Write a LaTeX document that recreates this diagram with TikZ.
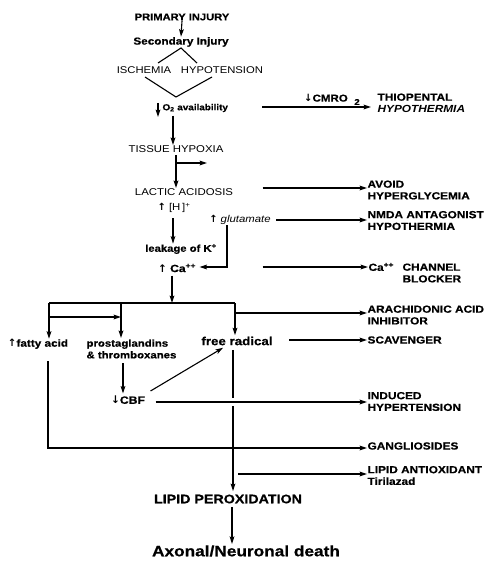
\documentclass[tikz,border=0pt]{standalone}
\usepackage{fontspec}
\setmainfont{Liberation Sans}[FakeStretch=1.15,BoldFeatures={FakeBold=0.6}]
\newfontfamily\arrf{DejaVu Sans}
\newcommand\uarr{{\arrf\bfseries ↑}}
\newcommand\darr{{\arrf\bfseries ↓}}
\usetikzlibrary{arrows.meta,calc}
\begin{document}
\begin{tikzpicture}[x=1pt,y=-1pt,line width=1.1pt,
  every node/.style={inner sep=0pt},
  B/.style={font=\fontsize{#1}{11.7}\selectfont\bfseries},
  R/.style={font=\fontsize{#1}{11.7}\selectfont},
  BI/.style={font=\fontsize{#1}{11.7}\selectfont\bfseries\itshape},
  RI/.style={font=\fontsize{#1}{11.7}\selectfont\itshape},
  arr/.style={-{Stealth[length=7.5pt,width=4.8pt,inset=1.5pt]}},
  rt/.style={B=10.3,anchor=west,align=left}]
\path[use as bounding box] (0,0) rectangle (487,561);
% ---- main chain ----
\node[B=9.7] (prim) at (182,17) {PRIMARY INJURY};
\node[B=10.2] (sec) at (181,42) {Secondary Injury};
\node[R=9.8] (isch) at (144,70) {ISCHEMIA};
\node[R=9.8] (hypo) at (222,70) {HYPOTENSION};
\node[B=8.6,anchor=west] (o2) at (162,108) {O\textsubscript{2} availability};
\node[R=9.9] (tissue) at (176,149) {TISSUE HYPOXIA};
\node[R=9.9] (lactic) at (184,192) {LACTIC ACIDOSIS};
\node[R=9.9] (hplus) at (174,208) {\uarr\ [H\,]\textsuperscript{+}};
\node[RI=9.9] (glut) at (240,220) {\uarr\ glutamate};
\node[B=9.8] (leak) at (181,249) {leakage of K\textsuperscript{+}};
\node[B=10.5] (ca) at (177,268) {\uarr\ Ca\textsuperscript{++}};
\node[B=10.2] (fatty) at (38,344) {\uarr fatty acid};
\node[B=9.9,anchor=west,align=left] (prost) at (86,349) {prostaglandins\\\& thromboxanes};
\node[B=11.6] (free) at (237,341) {free radical};
\node[B=10.6] (cbf) at (128,400) {\darr CBF};
\node[B=12.4] (lipid) at (228,499) {LIPID PEROXIDATION};
\node[B=15] (death) at (246,551) {Axonal/Neuronal death};
% ---- right column ----
\node[B=10] (cmro) at (326,98) {\darr CMRO};
\node[B=8.5] (cmrosub) at (357,102) {2};
\node[rt] (thio) at (377,103) {THIOPENTAL\\\textit{HYPOTHERMIA}};
\node[rt] (avoid) at (367,190) {AVOID\\HYPERGLYCEMIA};
\node[rt] (nmda) at (367,220.5) {NMDA ANTAGONIST\\HYPOTHERMIA};
\node[B=10.3,anchor=west] (caq) at (368,267) {Ca\textsuperscript{++}};
\node[rt] (chan) at (402,273) {CHANNEL\\BLOCKER};
\node[rt] (arach) at (367,315) {ARACHIDONIC ACID\\INHIBITOR};
\node[rt] (scav) at (367,340) {SCAVENGER};
\node[rt] (induced) at (367,401.5) {INDUCED\\HYPERTENSION};
\node[rt] (gang) at (367,446) {GANGLIOSIDES};
\node[rt] (antiox) at (367,475.5) {LIPID ANTIOXIDANT\\Tirilazad};
% ---- helper coordinates ----
\coordinate (vtop) at (181,48);
\coordinate (vl) at (158,63);
\coordinate (vr) at (197,63);
\coordinate (wl) at (145,77);
\coordinate (wr) at (212,77);
\coordinate (wapex) at (176,97);
\coordinate (hx) at (176,163);
\coordinate (hxe) at (207,163);
\coordinate (gturn) at (227,267);
\coordinate (barl) at (49,303);
\coordinate (barm) at (121,303);
\coordinate (barr) at (235,303);
\coordinate (inner) at (49,317);
\coordinate (arb) at (235,313);
\coordinate (fr1) at (233,398);
\coordinate (fr2) at (233,406);
\coordinate (fatb) at (48,448);
\coordinate (aox) at (238,474);
% ---- connectors ----
\draw[arr] (prim.south) -- (sec.north);
\draw (vl) -- (vtop) -- (vr);
\draw (wl) -- (wapex) -- (wr);
\draw[arr] ($(o2.west)+(-4,-5)$) -- ($(o2.west)+(-4,9)$);
\draw[arr] ($(o2.south west)+(11,3)$) -- (tissue.north -| 173,0);
\draw[arr] ($(tissue.south)+(0,2)$) -- (lactic.north -| 176,0);
\draw[arr] (hx) -- (hxe);
\draw[arr] ($(hplus.south)+(-1,5)$) -- (leak.north -| 173,0);
\draw[arr] (glut.south -| 227,0) -- (gturn) -- ($(ca.east)+(3,-1)$);
\draw[arr] ($(ca.south)+(-5,3)$) -- (barr -| 172,0);
\draw (barl) -- (barr);
\draw[arr] (barl) -- (fatty.north -| barl);
\draw[arr] (barm) -- ($(prost.north west)+(35,-1)$);
\draw[arr] (barr) -- ($(free.north)+(-2,-1)$);
\draw[arr] (inner) -- (inner -| barm);
\draw[arr] (arb) -- (arb -| arach.west);
\draw[arr] ($(free.east)+(16,-1)$) -- (scav.west);
\draw[arr] ($(prost.south west)+(37,4)$) -- ($(cbf.north)+(-5,-2)$);
\draw[arr] ($(cbf.east)+(5,-9)$) -- ($(free.south)+(-14,2)$);
\draw[arr] ($(cbf.east)+(10,2)$) -- (induced.west |- 0,402);
\draw ($(free.south)+(-4,4)$) -- (fr1);
\draw[arr] (fr2) -- ($(lipid.north)+(5,-3)$);
\draw[arr] ($(fatty.south)+(10,12)$) -- (fatb) -- (gang.west |- fatb);
\draw[arr] (aox) -- (aox -| antiox.west);
\draw[arr] ($(lipid.south)+(4,3)$) -- ($(death.north)+(-14,-1)$);
\draw[arr] ($(o2.east)+(34,-1)$) -- ($(thio.west)+(-6,4)$);
\draw[arr] ($(lactic.east)+(29,-4)$) -- (avoid.west |- 0,188);
\draw[arr] ($(glut.east)+(5,0)$) -- (nmda.west |- glut.east);
\draw[arr] ($(ca.east)+(66,-1)$) -- (caq.west |- 0,267);
\end{tikzpicture}
\end{document}
